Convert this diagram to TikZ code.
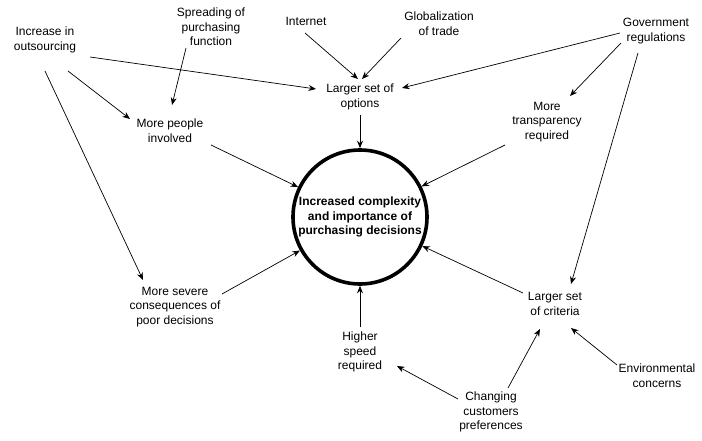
\documentclass[tikz,border=0pt]{standalone}
\usepackage{fontspec}
\setmainfont{Liberation Sans}
\usetikzlibrary{arrows.meta}
\begin{document}
\begin{tikzpicture}[x=1pt,y=-1pt,
  lbl/.style={align=center,inner sep=5pt,font=\fontsize{12}{14.6}\selectfont},
  arr/.style={-{Stealth[length=7.5pt,width=6pt]},line width=0.7pt},
  hub/.style={circle,draw,line width=3.6pt,minimum size=134pt,inner sep=0pt,align=center,font=\bfseries\fontsize{12}{14.6}\selectfont}]
\useasboundingbox (0,0) rectangle (702,441);
\node[hub] (c) at (360,217) {Increased complexity\\and importance of\\purchasing decisions};
\node[lbl] (io) at (45,40) {Increase in\\outsourcing};
\node[lbl] (sp) at (211,27) {Spreading of\\purchasing\\function};
\node[lbl] (in) at (306,21) {Internet};
\node[lbl] (gl) at (439,24) {Globalization\\of trade};
\node[lbl] (go) at (656,31) {Government\\regulations};
\node[lbl] (op) at (360,97) {Larger set of\\options};
\node[lbl] (mp) at (170,131) {More people\\involved};
\node[lbl] (tr) at (547,122) {More\\transparency\\required};
\node[lbl] (ms) at (175,307) {More severe\\consequences of\\poor decisions};
\node[lbl] (hs) at (360,352) {Higher\\speed\\required};
\node[lbl] (cr) at (555,304) {Larger set\\of criteria};
\node[lbl] (en) at (657,376) {Environmental\\concerns};
\node[lbl] (ch) at (491,412) {Changing\\customers\\preferences};
\draw[arr] ([shift={(45,17)}]io.center) -- ([shift={(-44,-8)}]op.center);
\draw[arr] ([shift={(23,31)}]io.center) -- ([shift={(-40,-12)}]mp.center);
\draw[arr] ([shift={(0,31)}]io.center) -- ([shift={(-32,-27)}]ms.center);
\draw[arr] ([shift={(-25,21)}]sp.center) -- ([shift={(2,-26)}]mp.center);
\draw[arr] ([shift={(-1,12)}]in.center) -- ([shift={(-2,-18)}]op.center);
\draw[arr] ([shift={(-38,14)}]gl.center) -- ([shift={(2,-18)}]op.center);
\draw[arr] ([shift={(-36,2)}]go.center) -- ([shift={(42,-9)}]op.center);
\draw[arr] ([shift={(-35,12)}]go.center) -- ([shift={(23,-26)}]tr.center);
\draw[arr] ([shift={(-18,22)}]go.center) -- ([shift={(16,-20)}]cr.center);
\draw[arr] ([shift={(0,18)}]op.center) -- (c);
\draw[arr] ([shift={(41,14)}]mp.center) -- (c);
\draw[arr] ([shift={(-42,23)}]tr.center) -- (c);
\draw[arr] ([shift={(47,-13)}]ms.center) -- (c);
\draw[arr] ([shift={(0,-25)}]hs.center) -- (c);
\draw[arr] ([shift={(-32,-11)}]cr.center) -- (c);
\draw[arr] ([shift={(-33,-13)}]ch.center) -- ([shift={(37,14)}]hs.center);
\draw[arr] ([shift={(17,-24)}]ch.center) -- ([shift={(-15,25)}]cr.center);
\draw[arr] ([shift={(-40,-11)}]en.center) -- ([shift={(16,24)}]cr.center);
\end{tikzpicture}
\end{document}
